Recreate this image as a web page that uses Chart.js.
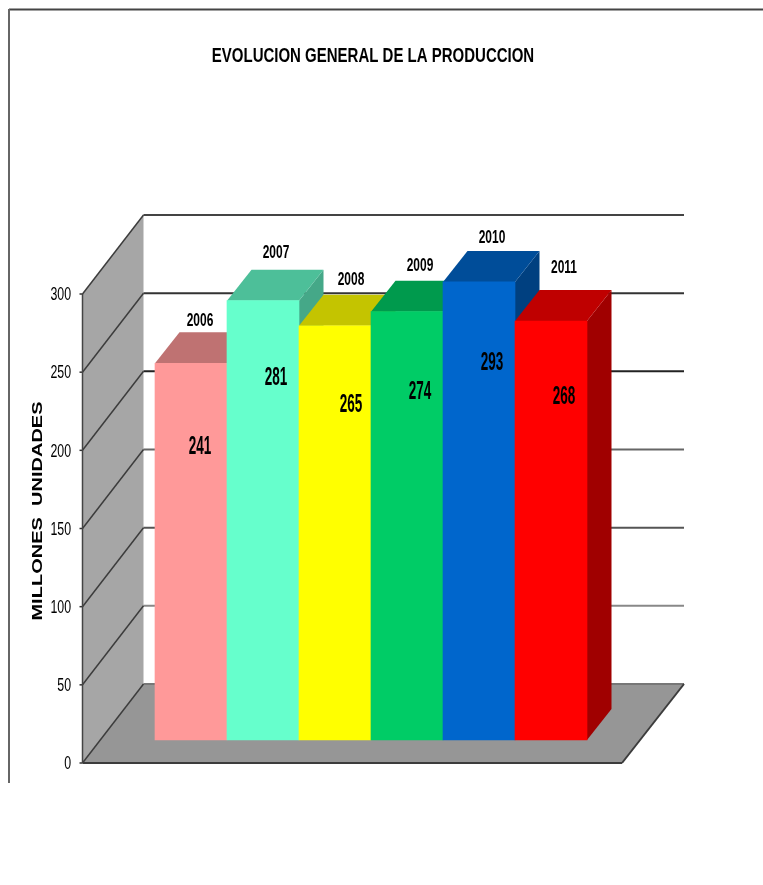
<!DOCTYPE html>
<html lang="es">
<head>
    <meta charset="UTF-8">
    <title>Evolucion general de la produccion</title>
    <script src="https://cdn.jsdelivr.net/npm/chart.js"></script>
    <style>
        html, body { margin: 0; padding: 0; background: #fff; }
        #wrap { position: relative; width: 763px; height: 885px; }
    </style>
</head>
<body>
<div id="wrap"><canvas id="produccion"></canvas></div>

<script>
    // datos
    const chartTitle = 'EVOLUCION GENERAL DE LA PRODUCCION';
    const axisTitle = 'MILLONES  UNIDADES';
    const years = ['2006', '2007', '2008', '2009', '2010', '2011'];
    const values = [241, 281, 265, 274, 293, 268];
    const yTicks = [0, 50, 100, 150, 200, 250, 300];

    // colores de cada barra
    const frontColors = ['#ff9999', '#66ffcc', '#ffff00', '#00cc66', '#0066cc', '#ff0000'];
    const topColors = ['#bf7272', '#4dbf99', '#c4c400', '#009a4d', '#004d99', '#bf0000'];
    const sideColors = ['#a06060', '#45a888', '#a0a000', '#008040', '#004080', '#a00000'];
    const gridColors = ['#777', '#888', '#555', '#666', '#222', '#333', '#444'];

    const sans = '"Liberation Sans", Arial, sans-serif';

    // perspectiva: pared del fondo, base de las barras y profundidad de las barras
    const wallDx = 61, wallDy = -79;
    const barLift = -23;
    const depthDx = 24.5, depthDy = -31;

    // ajuste a mano de las etiquetas respecto a su barra
    const labelDx = [9, 13, 16, 13, 13, 13];
    const valueDy = [84, 77, 79, 80, 81, 76];
    const yearDy = [-42, -48, -46, -46, -44, -53];

    function poly(ctx, pts, fill) {
        ctx.beginPath();
        pts.forEach((p, i) => i ? ctx.lineTo(p[0], p[1]) : ctx.moveTo(p[0], p[1]));
        ctx.closePath();
        ctx.fillStyle = fill;
        ctx.fill();
    }

    function line(ctx, x1, y1, x2, y2, color, width) {
        ctx.beginPath();
        ctx.moveTo(x1, y1);
        ctx.lineTo(x2, y2);
        ctx.strokeStyle = color;
        ctx.lineWidth = width;
        ctx.stroke();
    }

    // texto apretado en horizontal como en la imagen original
    function squeezed(ctx, text, x, y, font, sx, align) {
        ctx.save();
        ctx.translate(x, y);
        ctx.scale(sx, 1);
        ctx.font = font;
        ctx.fillStyle = '#000';
        ctx.textAlign = align || 'center';
        ctx.textBaseline = 'middle';
        ctx.fillText(text, 0, 0);
        ctx.restore();
    }

    const scene = {
        id: 'scene',
        beforeDatasetsDraw(chart) {
            const ctx = chart.ctx;
            const y = chart.scales.y;
            const bars = chart.getDatasetMeta(0).data;
            const y0 = y.getPixelForValue(0);
            const yMax = y.getPixelForValue(300);
            const left = 82.5, floorRight = 622, wallRight = 684;

            ctx.save();
            // marco
            line(ctx, 9, 9.5, 763, 9.5, '#444', 2);
            line(ctx, 9, 9, 9, 783, '#666', 2);

            // pared izquierda y suelo
            poly(ctx, [[left, yMax], [left + wallDx, yMax + wallDy], [left + wallDx, y0 + wallDy], [left, y0]], '#a6a6a6');
            poly(ctx, [[left, y0], [left + wallDx, y0 + wallDy], [wallRight, y0 + wallDy], [floorRight, y0]], '#969696');

            // rejilla
            yTicks.forEach((v, i) => {
                const py = y.getPixelForValue(v);
                line(ctx, left + wallDx, py + wallDy, wallRight, py + wallDy, gridColors[i], 2);
                line(ctx, left, py, left + wallDx, py + wallDy, '#3c3c3c', 1.5);
                line(ctx, left - 3, py, left, py, '#333', 1.5);
                squeezed(ctx, String(v), 71, py + 1, '19px ' + sans, 0.65, 'right');
            });
            line(ctx, left, yMax, left, y0, '#444', 1.5);
            line(ctx, left, y0, floorRight, y0, '#3c3c3c', 2);
            line(ctx, floorRight, y0, wallRight, y0 + wallDy, '#3c3c3c', 2);

            // caras superior y lateral de cada barra
            bars.forEach((bar, i) => {
                const l = bar.x - bar.width / 2, r = bar.x + bar.width / 2;
                const top = bar.y + barLift, base = bar.base + barLift;
                poly(ctx, [[r, top], [r + depthDx, top + depthDy], [r + depthDx, base + depthDy], [r, base]], sideColors[i]);
                poly(ctx, [[l, top], [l + depthDx, top + depthDy], [r + depthDx, top + depthDy], [r, top]], topColors[i]);
            });
            ctx.restore();

            // las caras frontales las dibuja Chart.js, desplazadas sobre el suelo
            ctx.save();
            ctx.translate(0, barLift);
        },
        afterDatasetsDraw(chart) {
            const ctx = chart.ctx;
            ctx.restore();

            chart.getDatasetMeta(0).data.forEach((bar, i) => {
                const top = bar.y + barLift;
                squeezed(ctx, String(values[i]), bar.x + labelDx[i], top + valueDy[i], 'bold 26px ' + sans, 0.52);
                squeezed(ctx, years[i], bar.x + labelDx[i], top + yearDy[i], 'bold 19px ' + sans, 0.63);
            });

            // titulos
            squeezed(ctx, chartTitle, 373, 56, 'bold 21px ' + sans, 0.714);
            ctx.save();
            ctx.translate(38.5, 511);
            ctx.rotate(-Math.PI / 2);
            squeezed(ctx, axisTitle, 0, 0, 'bold 14px ' + sans, 1.43);
            ctx.restore();
        }
    };

    new Chart(document.getElementById('produccion'), {
        type: 'bar',
        data: {
            labels: years,
            datasets: [{
                data: values,
                backgroundColor: frontColors,
                barPercentage: 1,
                categoryPercentage: 1,
                clip: false
            }]
        },
        plugins: [scene],
        options: {
            responsive: true,
            maintainAspectRatio: false,
            animation: false,
            devicePixelRatio: 1,
            layout: { padding: { left: 155, right: 176, top: 294, bottom: 122 } },
            plugins: {
                legend: { display: false },
                tooltip: { enabled: false },
                title: { display: false }
            },
            scales: {
                x: { display: false },
                y: {
                    display: false,
                    min: 0,
                    max: 300
                }
            }
        }
    });
</script>
</body>
</html>
